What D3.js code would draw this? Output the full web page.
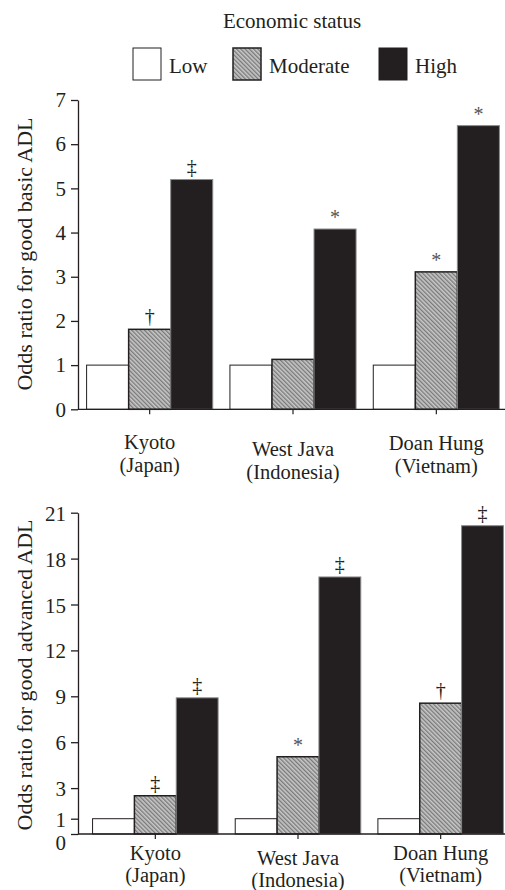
<!DOCTYPE html>
<html>
<head>
<meta charset="utf-8">
<script src="https://cdn.jsdelivr.net/npm/d3@7"></script>
<style>
  html, body { margin: 0; padding: 0; background: #fff; }
  svg { display: block; }
</style>
</head>
<body>
<svg id="chart" width="505" height="890"></svg>
<script>
// ---------- data ----------
const regions = ["Kyoto", "West Java", "Doan Hung"];
const countries = ["(Japan)", "(Indonesia)", "(Vietnam)"];
const statusLevels = ["Low", "Moderate", "High"];

const basicLow = [1, 1, 1];
const basicModerate = [1.81, 1.13, 3.11];
const basicHigh = [5.2, 4.08, 6.42];
const basicSigModerate = ["†", "", "*"];
const basicSigHigh = ["‡", "*", "*"];
const basicTicks = [0, 1, 2, 3, 4, 5, 6, 7];

const advLow = [1, 1, 1];
const advModerate = [2.5, 5.05, 8.55];
const advHigh = [8.9, 16.8, 20.15];
const advSigModerate = ["‡", "*", "†"];
const advSigHigh = ["‡", "‡", "‡"];
const advTicks = [0, 1, 3, 6, 9, 12, 15, 18, 21];

const legendTitle = "Economic status";
const basicTitle = "Odds ratio for good basic ADL";
const advTitle = "Odds ratio for good advanced ADL";

// ---------- drawing ----------
const FONT = '"Liberation Serif"';
const svg = d3.select("#chart");
const INK = "#231f20";

const defs = svg.append("defs");
const pat = defs.append("pattern")
  .attr("id", "hatch")
  .attr("patternUnits", "userSpaceOnUse")
  .attr("width", 3).attr("height", 3)
  .attr("patternTransform", "rotate(-45)");
pat.append("rect").attr("width", 3).attr("height", 3).attr("fill", "#c8c8c8");
pat.append("line").attr("x1", 0.7).attr("y1", 0).attr("x2", 0.7).attr("y2", 3)
  .attr("stroke", "#707070").attr("stroke-width", 1.2);

function txt(sel) { return sel.style("font-family", FONT).attr("fill", INK); }

// legend
txt(svg.append("text")).attr("x", 292).attr("y", 28)
  .attr("text-anchor", "middle").attr("font-size", 21).text(legendTitle);

const legendX = [133, 233, 379];
const fills = ["#ffffff", "url(#hatch)", INK];
const strokeW = [1, 1.5, 1];
statusLevels.forEach((s, i) => {
  svg.append("rect")
    .attr("x", legendX[i]).attr("y", 48).attr("width", 28).attr("height", 32)
    .attr("fill", fills[i]).attr("stroke", INK).attr("stroke-width", strokeW[i]);
  txt(svg.append("text")).attr("x", legendX[i] + 36).attr("y", 73)
    .attr("font-size", 21).text(s);
});

function drawPanel(cfg) {
  const g = svg.append("g");
  const y = d3.scaleLinear().domain(cfg.domain).range(cfg.yRange);
  const x = d3.scaleBand().domain(regions).range(cfg.xRange)
    .paddingInner(0.12).paddingOuter(0.06);
  const sub = d3.scaleBand().domain(statusLevels).range([0, x.bandwidth()]);

  const series = [cfg.low, cfg.mod, cfg.high];
  const rows = [];
  series.forEach((vals, si) => {
    vals.forEach((v, ci) => rows.push({ si, ci, v }));
  });

  // bars
  g.selectAll("rect.bar").data(rows).join("rect")
    .attr("class", "bar")
    .attr("x", d => x(regions[d.ci]) + sub(statusLevels[d.si]))
    .attr("y", d => y(d.v))
    .attr("width", sub.bandwidth())
    .attr("height", d => y(0) - y(d.v))
    .attr("fill", d => fills[d.si])
    .attr("stroke", d => d.si === 2 ? "#8a8a8a" : INK)
    .attr("stroke-width", d => d.si === 1 ? 1.5 : 1);

  // significance marks
  const sigRows = [];
  cfg.sigMod.forEach((s, ci) => sigRows.push({ si: 1, ci, s, v: cfg.mod[ci] }));
  cfg.sigHigh.forEach((s, ci) => sigRows.push({ si: 2, ci, s, v: cfg.high[ci] }));
  txt(g.selectAll("text.sig").data(sigRows.filter(d => d.s)).join("text"))
    .attr("class", "sig")
    .attr("x", d => x(regions[d.ci]) + sub(statusLevels[d.si]) + sub.bandwidth() / 2)
    .attr("y", d => y(d.v) - (d.s === "*" ? 5 : 6))
    .attr("text-anchor", "middle")
    .attr("font-size", 20)
    .attr("fill", d => d.s === "*" ? "#555" : INK)
    .text(d => d.s);

  // y axis
  const yAxis = g.append("g").attr("transform", "translate(78,0)")
    .call(d3.axisLeft(y).tickValues(cfg.ticks).tickFormat(d3.format("d"))
      .tickSize(7).tickSizeOuter(0).tickPadding(5));
  yAxis.selectAll("path, line").attr("stroke", INK).attr("stroke-width", 1.3);
  txt(yAxis.selectAll("text")).attr("font-size", 21)
    .attr("dy", d => (d === 0 ? cfg.zeroDy : cfg.labelDy) + "em");

  // baseline
  g.append("line").attr("x1", 78).attr("x2", 505)
    .attr("y1", y(0)).attr("y2", y(0))
    .attr("stroke", INK).attr("stroke-width", 1.3);

  // x ticks
  const xAxis = g.append("g").attr("transform", `translate(0,${y(0)})`)
    .call(d3.axisBottom(x).tickSize(5).tickSizeOuter(0).tickFormat(""));
  xAxis.select("path.domain").remove();
  xAxis.selectAll("line").attr("stroke", INK).attr("stroke-width", 1.2);

  // x labels
  regions.forEach((r, i) => {
    const cx = x(r) + x.bandwidth() / 2;
    const t = txt(g.append("text"))
      .attr("text-anchor", "middle").attr("font-size", 20.5)
      .attr("x", cx)
      .attr("y", y(0) + cfg.labelY + cfg.labelShift[i]);
    t.append("tspan").attr("x", cx).text(r);
    t.append("tspan").attr("x", cx).attr("dy", cfg.lineGap).text(countries[i]);
  });

  // y title
  txt(g.append("text"))
    .attr("transform", `translate(${cfg.titleX},${cfg.titleY}) rotate(-90)`)
    .attr("text-anchor", "middle").attr("font-size", 22)
    .text(cfg.title);
}

drawPanel({
  domain: [0, 7], yRange: [409.3, 100], xRange: [78, 508],
  low: basicLow, mod: basicModerate, high: basicHigh,
  sigMod: basicSigModerate, sigHigh: basicSigHigh,
  ticks: basicTicks, title: basicTitle, titleX: 32, titleY: 254,
  labelY: 40, labelShift: [0, 7, 1], lineGap: 22.5, labelDy: 0.32, zeroDy: 0.32
});

drawPanel({
  domain: [0, 21], yRange: [834, 512.7], xRange: [84, 512],
  low: advLow, mod: advModerate, high: advHigh,
  sigMod: advSigModerate, sigHigh: advSigHigh,
  ticks: advTicks, title: advTitle, titleX: 32, titleY: 675,
  labelY: 26, labelShift: [0, 5, 0], lineGap: 21.5, labelDy: 0.36, zeroDy: 0.72
});
</script>
</body>
</html>
